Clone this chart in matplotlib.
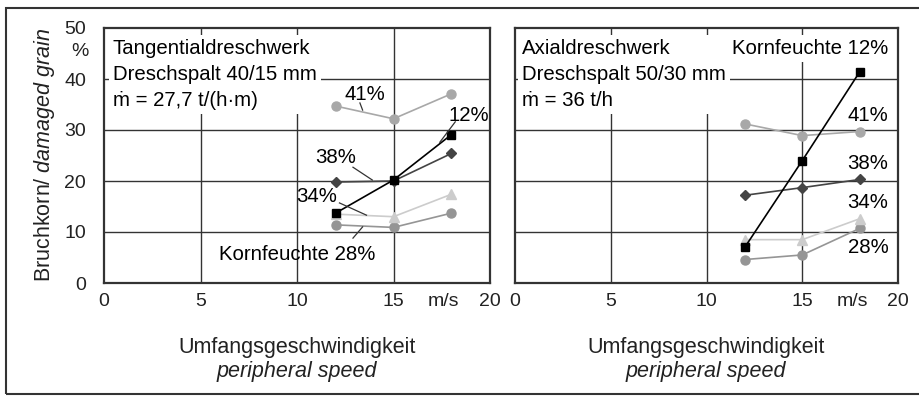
import matplotlib.pyplot as plt
import matplotlib.patches as mpatches

plt.rcParams['font.family'] = ['Liberation Sans', 'DejaVu Sans']
plt.rcParams['mathtext.fontset'] = 'custom'
plt.rcParams['mathtext.rm'] = 'Liberation Sans'
plt.rcParams['mathtext.it'] = 'Liberation Sans:italic'

# Daten
speed = [12, 15, 18]
tang_12 = [13.7, 20.2, 29.1]
tang_41 = [34.7, 32.2, 37.1]
tang_38 = [19.8, 20.0, 25.4]
tang_34 = [13.5, 13.0, 17.4]
tang_28 = [11.4, 10.9, 13.7]

axial_12 = [7.0, 24.0, 41.4]
axial_41 = [31.2, 28.9, 29.7]
axial_38 = [17.2, 18.7, 20.3]
axial_34 = [8.5, 8.5, 12.6]
axial_28 = [4.6, 5.5, 10.7]

x_ticks = [0, 5, 10, 15, 20]
y_ticks = [0, 10, 20, 30, 40, 50]

W, H = 919, 396


def px(x, y):
    return x / W, 1 - y / H


# Stil je Kornfeuchte
styles = {
    '41': dict(color='#a8a8a8', marker='o', ms=6.5),
    '28': dict(color='#959595', marker='o', ms=6.5),
    '34': dict(color='#cccccc', marker='^', ms=7),
    '38': dict(color='#444444', marker='D', ms=5.5),
    '12': dict(color='#000000', marker='s', ms=5.5),
}


def setup_axes(ax):
    ax.set_xlim(0, 20)
    ax.set_ylim(0, 50)
    ax.set_xticks(x_ticks)
    ax.set_yticks(y_ticks)
    ax.tick_params(length=0, labelsize=14, colors='#222222')
    ax.tick_params(axis='x', pad=7)
    ax.tick_params(axis='y', pad=13)
    for v in [5, 10, 15]:
        ax.axvline(v, color='#333333', lw=1.0, zorder=0)
    for v in [10, 20, 30, 40]:
        ax.axhline(v, color='#333333', lw=1.0, zorder=0)
    for s in ax.spines.values():
        s.set_color('#333333')
        s.set_linewidth(1.6)
    ax.text(17.6, -0.04, 'm/s', transform=ax.get_xaxis_transform(),
            ha='center', va='top', fontsize=14, color='#222222')


def plot_series(ax, series):
    for key, vals in series:
        st = styles[key]
        ax.plot(speed, vals, color=st['color'], lw=1.2, marker=st['marker'],
                ms=st['ms'], zorder=3)


fig = plt.figure(figsize=(W / 100, H / 100), dpi=100)

# Rahmen
fig.patches.append(mpatches.Rectangle(px(6, 394), 1.0, (394 - 8) / H,
                                      transform=fig.transFigure, fill=False,
                                      edgecolor='#333333', lw=1.5))

ax1 = fig.add_axes([104 / W, 1 - 283 / H, 386 / W, 255 / H])
ax2 = fig.add_axes([515 / W, 1 - 283 / H, 383 / W, 255 / H])

setup_axes(ax1)
setup_axes(ax2)
ax2.set_yticklabels([])

plot_series(ax1, [('41', tang_41), ('28', tang_28), ('34', tang_34),
                  ('38', tang_38), ('12', tang_12)])
plot_series(ax2, [('41', axial_41), ('28', axial_28), ('34', axial_34),
                  ('38', axial_38), ('12', axial_12)])

fs = 14.7
box = dict(facecolor='white', edgecolor='none', pad=3)
ax1.text(0.45, 47.8, 'Tangentialdreschwerk\nDreschspalt 40/15 mm\nṁ = 27,7 t/(h·m)',
         ha='left', va='top', fontsize=fs, linespacing=1.45, bbox=box, zorder=2)
ax2.text(0.35, 47.8, 'Axialdreschwerk\nDreschspalt 50/30 mm\nṁ = 36 t/h',
         ha='left', va='top', fontsize=fs, linespacing=1.45, bbox=box, zorder=2)

# Beschriftungen links
ax1.text(13.5, 36.9, '41%', ha='center', va='center', fontsize=fs, zorder=4)
ax1.plot([13.26, 13.4], [35.3, 33.9], color='#333333', lw=0.9, zorder=4)
ax1.text(18.9, 32.9, '12%', ha='center', va='center', fontsize=fs, zorder=4)
ax1.plot([18.2, 17.4], [31.6, 27.6], color='#333333', lw=0.9, zorder=4)
ax1.text(12.0, 24.7, '38%', ha='center', va='center', fontsize=fs, zorder=4)
ax1.plot([12.9, 13.9], [22.7, 20.2], color='#333333', lw=0.9, zorder=4)
ax1.text(11.0, 16.9, '34%', ha='center', va='center', fontsize=fs, zorder=4)
ax1.plot([12.2, 13.6], [15.7, 13.3], color='#333333', lw=0.9, zorder=4)
ax1.text(10.0, 5.5, 'Kornfeuchte 28%', ha='center', va='center', fontsize=fs, zorder=4)
ax1.plot([12.9, 13.4], [8.8, 11.0], color='#333333', lw=0.9, zorder=4)

# Beschriftungen rechts
ax2.text(19.5, 45.9, 'Kornfeuchte 12%', ha='right', va='center', fontsize=fs,
         bbox=box, zorder=2)
ax2.text(19.5, 32.8, '41%', ha='right', va='center', fontsize=fs, zorder=4)
ax2.text(19.5, 23.4, '38%', ha='right', va='center', fontsize=fs, zorder=4)
ax2.text(19.5, 15.8, '34%', ha='right', va='center', fontsize=fs, zorder=4)
ax2.text(19.5, 7.0, '28%', ha='right', va='center', fontsize=fs, zorder=4)

ax1.text(-1.25, 45.3, '%', ha='center', va='center', fontsize=14, color='#222222',
         clip_on=False)

# Achsentitel
fig.text(*px(45, 155), r'Bruchkorn/ $\mathit{damaged\ grain}$', rotation=90,
         ha='center', va='center', fontsize=15.5, color='#222222')
for cx in [297, 706]:
    fig.text(*px(cx, 348), 'Umfangsgeschwindigkeit', ha='center', va='center',
             fontsize=15.5, color='#222222')
    fig.text(*px(cx, 371), 'peripheral speed', ha='center', va='center',
             fontsize=15.5, style='italic', color='#222222')

fig.savefig('out.png', dpi=100)
